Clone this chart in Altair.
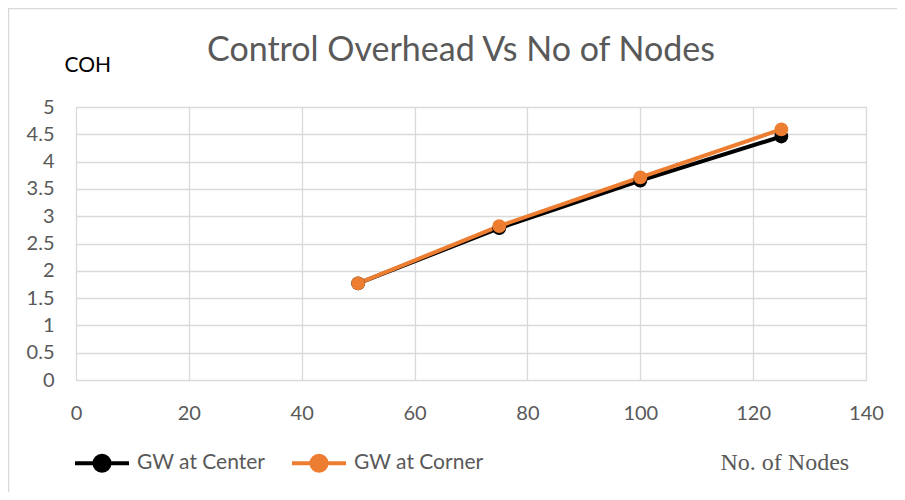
import altair as alt
import pandas as pd

nodes = [50, 75, 100, 125]
gw_center = [1.77, 2.78, 3.65, 4.46]
gw_corner = [1.77, 2.82, 3.71, 4.59]
series_names = ["GW at Center", "GW at Corner"]
series_colors = ["#000000", "#ED7D31"]
x_ticks = [0, 20, 40, 60, 80, 100, 120, 140]
y_ticks = [0, 0.5, 1, 1.5, 2, 2.5, 3, 3.5, 4, 4.5, 5]

rows = []
for n, c in zip(nodes, gw_center):
    rows.append({"nodes": n, "coh": c, "series": series_names[0]})
for n, c in zip(nodes, gw_corner):
    rows.append({"nodes": n, "coh": c, "series": series_names[1]})
df = pd.DataFrame(rows)

FONT = "Lato"
GRAY = "#595959"

s = 27
r = 7.5 / s
sym = f"M-1,0H1M-{r:.3f},0A{r:.3f},{r:.3f},0,1,1,{r:.3f},0A{r:.3f},{r:.3f},0,1,1,-{r:.3f},0Z"

lines = alt.Chart(df).mark_line(
    strokeWidth=4,
    point=alt.OverlayMarkDef(filled=True, size=190, opacity=1),
).encode(
    x=alt.X("nodes:Q",
            scale=alt.Scale(domain=[0, 140], nice=False, zero=True),
            axis=alt.Axis(values=x_ticks, title="No. of Nodes", titleFont="Liberation Serif",
                          titleFontSize=24, titleFontWeight="normal", titleColor=GRAY,
                          titleAnchor="start", titleAlign="left", titleX=644, titleY=82,
                          titleBaseline="middle",
                          labelFont=FONT, labelFontSize=20, labelColor=GRAY, labelPadding=23,
                          labelFlush=False,
                          ticks=False, domain=False, gridColor="#d9d9d9", gridWidth=1.3)),
    y=alt.Y("coh:Q",
            scale=alt.Scale(domain=[0, 5], nice=False),
            axis=alt.Axis(values=y_ticks, format="~g", title="COH", titleAngle=0,
                          titleFont=FONT, titleFontSize=21, titleFontWeight="normal",
                          titleColor="#000000", titleAlign="left", titleX=-12, titleY=-42,
                          titleBaseline="middle",
                          labelFont=FONT, labelFontSize=20, labelColor=GRAY, labelPadding=22,
                          labelFlush=False,
                          ticks=False, domain=False, gridColor="#d9d9d9", gridWidth=1.3)),
    color=alt.Color("series:N",
                    scale=alt.Scale(domain=series_names, range=series_colors),
                    legend=alt.Legend(orient="none", legendX=-3, legendY=327, direction="horizontal",
                                      title=None, symbolType=sym, symbolSize=s * s * 4,
                                      symbolStrokeWidth=4, labelFont=FONT, labelFontSize=21,
                                      labelColor=GRAY, labelOffset=6, columnPadding=18,
                                      symbolOpacity=1)),
    order=alt.Order("series:N"),
)

frame_df = pd.DataFrame({"k": [0]})
frame_top = alt.Chart(frame_df).mark_rule(color="#d9d9d9", strokeWidth=1.5, clip=False).encode(
    x=alt.value(-68), x2=alt.value(830), y=alt.value(-98.5), y2=alt.value(-98.5))
frame_left = alt.Chart(frame_df).mark_rule(color="#d9d9d9", strokeWidth=1.5, clip=False).encode(
    x=alt.value(-67.5), x2=alt.value(-67.5), y=alt.value(-99), y2=alt.value(390))

chart = alt.layer(frame_top, frame_left, lines).properties(
    width=790,
    height=273,
    title=alt.TitleParams("Control Overhead Vs No of Nodes", font=FONT, fontSize=34,
                          fontWeight="normal", color=GRAY, anchor="middle", dx=-10, offset=-61),
    autosize=alt.AutoSizeParams(type="none"),
    padding={"left": 68, "top": 99, "right": 31, "bottom": 112},
    background="white",
).configure_view(stroke=None)

chart.save("out.html", embed_options={"renderer": "svg", "actions": False})
